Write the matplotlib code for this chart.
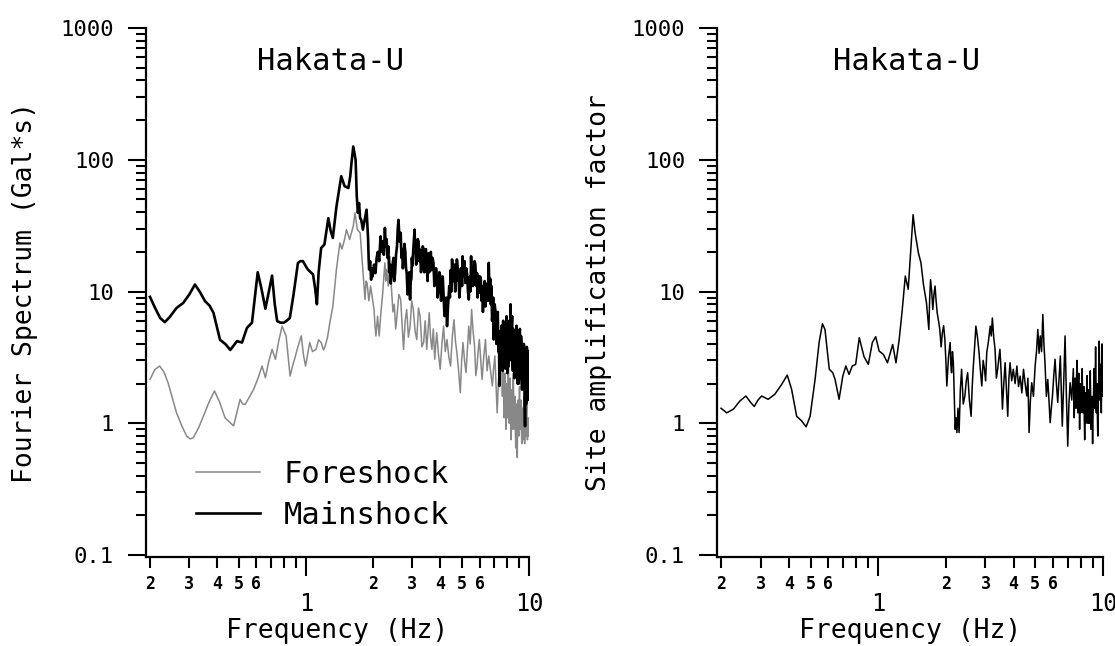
import numpy as np
import matplotlib
matplotlib.use('Agg')
import matplotlib.pyplot as plt
from matplotlib.ticker import LogLocator, NullFormatter

plt.rcParams['font.family'] = ['DejaVu Sans Mono']

# axis ticks
y_major = [0.1, 1, 10, 100, 1000]
y_major_labels = ['0.1', '1', '10', '100', '1000']
x_major = [1, 10]
x_major_labels = ['1', '10']
x_minor = [0.2, 0.3, 0.4, 0.5, 0.6, 0.7, 0.8, 0.9, 2, 3, 4, 5, 6, 7, 8, 9]
x_minor_labels = ['2', '3', '4', '5', '6', '', '', '', '2', '3', '4', '5', '6', '', '', '']

# Mainshock Fourier spectrum (Gal*s)
main_freq = [0.200, 0.210, 0.222, 0.233, 0.245, 0.263, 0.282, 0.300, 0.318, 0.335,
             0.353, 0.370, 0.385, 0.400, 0.412, 0.435, 0.458, 0.475, 0.491, 0.517,
             0.544, 0.573, 0.590, 0.608, 0.632, 0.658, 0.682, 0.705, 0.725, 0.743,
             0.770, 0.796, 0.820, 0.847, 0.880, 0.921, 0.945, 0.970, 1.000, 1.020,
             1.050, 1.076, 1.100, 1.120, 1.140, 1.170, 1.210, 1.260, 1.290, 1.320,
             1.370, 1.410, 1.440, 1.490, 1.550, 1.580, 1.600, 1.630, 1.650, 1.670,
             1.690, 1.710, 1.730, 1.750, 1.770, 1.800, 1.840, 1.870, 1.900, 1.910,
             1.920, 1.940, 1.960, 1.975, 1.990, 2.020, 2.050, 2.075, 2.100, 2.130,
             2.160, 2.185, 2.210, 2.235, 2.260, 2.280, 2.300, 2.320, 2.340, 2.360,
             2.380, 2.400, 2.420, 2.445, 2.470, 2.490, 2.510, 2.535, 2.560, 2.580,
             2.600, 2.630, 2.660, 2.680, 2.700, 2.720, 2.740, 2.765, 2.790, 2.810,
             2.830, 2.855, 2.880, 2.905, 2.930, 2.950, 2.970, 2.985, 3.000, 3.035,
             3.070, 3.085, 3.100, 3.120, 3.140, 3.170, 3.200, 3.225, 3.250, 3.280,
             3.310, 3.340, 3.370, 3.395, 3.420, 3.450, 3.480, 3.510, 3.540, 3.570,
             3.600, 3.630, 3.660, 3.695, 3.730, 3.765, 3.800, 3.830, 3.860, 3.895,
             3.930, 3.965, 4.000, 4.035, 4.070, 4.105, 4.140, 4.180, 4.220, 4.255,
             4.290, 4.340, 4.390, 4.420, 4.450, 4.485, 4.520, 4.550, 4.580, 4.610,
             4.640, 4.670, 4.700, 4.725, 4.750, 4.790, 4.830, 4.875, 4.920, 4.950,
             4.980, 5.010, 5.040, 5.075, 5.110, 5.145, 5.180, 5.230, 5.280, 5.325,
             5.370, 5.405, 5.440, 5.470, 5.500, 5.540, 5.580, 5.615, 5.650, 5.700,
             5.750, 5.800, 5.850, 5.885, 5.920, 5.955, 5.990, 6.035, 6.080, 6.120,
             6.160, 6.215, 6.270, 6.325, 6.380, 6.435, 6.490, 6.545, 6.600, 6.650,
             6.700, 6.745, 6.790, 6.830, 6.870, 6.910, 6.950, 7.015, 7.080, 7.140,
             7.200, 7.245, 7.290, 7.330, 7.370, 7.425, 7.480, 7.530, 7.580, 7.620,
             7.660, 7.690, 7.720, 7.760, 7.800, 7.830, 7.860, 7.895, 7.930, 7.965,
             8.000, 8.035, 8.070, 8.100, 8.130, 8.165, 8.200, 8.235, 8.270, 8.300,
             8.330, 8.365, 8.400, 8.435, 8.470, 8.505, 8.540, 8.575, 8.610, 8.645,
             8.680, 8.715, 8.750, 8.785, 8.820, 8.855, 8.890, 8.925, 8.960, 8.995,
             9.030, 9.065, 9.100, 9.135, 9.170, 9.205, 9.240, 9.275, 9.310, 9.345,
             9.380, 9.415, 9.450, 9.485, 9.520, 9.560, 9.600, 9.635, 9.670, 9.705,
             9.740, 9.775, 9.810, 9.845, 9.880, 9.910, 9.940, 9.970, 10.00]
main_amp = [9.1, 7.6, 6.3, 5.85, 6.4, 7.5, 8.2, 9.5, 11.3, 9.9,
            8.45, 7.8, 6.9, 5.3, 4.3, 4.0, 3.6, 3.9, 4.2, 4.1,
            5.3, 5.8, 9.0, 14.0, 10.5, 7.4, 10.0, 13.2, 8.0, 5.96,
            5.8, 5.8, 6.0, 6.3, 9.5, 16.5, 17.0, 17.0, 15.5, 14.7,
            14.0, 13.5, 10.5, 8.0, 14.0, 21.4, 22.7, 36.0, 29.0, 25.5,
            44.0, 60.0, 75.0, 63.0, 61.0, 75.0, 94.0, 126.0, 112.0, 100.0,
            53.0, 39.5, 47.0, 36.0, 35.0, 29.5, 36.0, 41.8, 25.0, 18.0,
            14.7, 17.0, 12.3, 15.0, 13.0, 16.0, 13.8, 18.0, 20.0, 17.0,
            26.2, 20.0, 24.0, 19.0, 30.4, 22.0, 25.0, 18.0, 22.0, 14.0,
            16.0, 11.5, 13.1, 16.0, 18.0, 12.0, 13.8, 19.0, 22.0, 30.0,
            35.0, 24.0, 27.9, 18.0, 21.0, 15.0, 17.5, 23.0, 20.0, 15.0,
            13.8, 9.5, 11.0, 14.0, 8.7, 12.0, 12.5, 18.0, 15.6, 22.0,
            29.5, 20.0, 22.0, 16.0, 18.5, 25.0, 24.0, 17.0, 20.8, 14.0,
            16.0, 22.0, 20.8, 14.0, 17.0, 21.0, 15.6, 12.0, 19.5, 14.0,
            17.5, 20.0, 14.5, 18.0, 16.5, 11.0, 12.0, 15.0, 13.1, 9.0,
            10.5, 14.0, 13.1, 8.5, 11.0, 13.0, 9.2, 6.5, 7.0, 9.0,
            5.46, 8.0, 11.0, 9.0, 14.5, 10.0, 17.5, 14.0, 12.0, 16.0,
            13.1, 10.0, 16.0, 12.0, 17.5, 15.0, 13.5, 9.0, 11.6, 15.0,
            14.0, 11.0, 18.5, 13.0, 14.0, 17.0, 11.6, 15.0, 13.5, 10.0,
            8.7, 12.0, 13.0, 10.0, 18.5, 12.0, 15.0, 11.0, 13.1, 17.0,
            16.0, 11.0, 13.8, 9.0, 11.0, 13.0, 9.8, 13.0, 12.5, 8.5,
            11.0, 7.0, 9.5, 12.0, 7.7, 10.0, 11.5, 8.5, 16.5, 10.0,
            12.5, 8.0, 11.0, 6.0, 7.0, 9.0, 4.32, 8.0, 7.0, 4.0,
            5.46, 7.0, 3.5, 5.0, 1.92, 4.0, 3.0, 5.5, 4.3, 2.5,
            6.0, 3.5, 2.8, 5.5, 5.2, 2.6, 3.0, 4.5, 6.5, 3.2,
            2.4, 5.0, 4.8, 2.7, 3.2, 6.0, 5.6, 3.5, 8.0, 4.0,
            3.0, 5.5, 6.5, 3.0, 2.5, 5.2, 4.5, 2.8, 2.2, 4.0,
            5.0, 2.5, 3.3, 5.5, 4.8, 2.6, 2.0, 4.4, 3.8, 2.0,
            2.6, 4.5, 5.2, 2.5, 2.2, 4.6, 4.2, 2.3, 1.8, 3.5,
            3.6, 1.9, 2.0, 4.0, 3.4, 1.6, 0.95, 3.0, 2.8, 1.4,
            1.6, 3.8, 3.6, 1.8, 1.5, 3.5, 3.4, 1.7, 2.0]

# Foreshock Fourier spectrum (Gal*s)
fore_freq = [0.200, 0.210, 0.221, 0.231, 0.241, 0.252, 0.263, 0.278, 0.292, 0.303,
             0.313, 0.330, 0.347, 0.368, 0.389, 0.410, 0.434, 0.455, 0.474, 0.490,
             0.507, 0.520, 0.534, 0.560, 0.583, 0.610, 0.636, 0.658, 0.680, 0.705,
             0.730, 0.755, 0.782, 0.815, 0.849, 0.870, 0.889, 0.920, 0.953, 0.975,
             0.996, 1.020, 1.040, 1.070, 1.110, 1.140, 1.170, 1.200, 1.220, 1.250,
             1.280, 1.320, 1.370, 1.420, 1.450, 1.490, 1.520, 1.570, 1.600, 1.630,
             1.660, 1.700, 1.750, 1.790, 1.840, 1.860, 1.880, 1.915, 1.950, 1.985,
             2.020, 2.040, 2.060, 2.095, 2.130, 2.170, 2.210, 2.235, 2.260, 2.280,
             2.300, 2.340, 2.380, 2.400, 2.420, 2.455, 2.490, 2.525, 2.560, 2.610,
             2.660, 2.700, 2.740, 2.785, 2.830, 2.880, 2.930, 2.980, 3.030, 3.085,
             3.140, 3.195, 3.250, 3.310, 3.370, 3.425, 3.480, 3.525, 3.570, 3.620,
             3.670, 3.725, 3.780, 3.820, 3.860, 3.930, 4.000, 4.070, 4.140, 4.215,
             4.290, 4.370, 4.450, 4.530, 4.610, 4.680, 4.750, 4.835, 4.920, 4.990,
             5.060, 5.140, 5.220, 5.295, 5.370, 5.450, 5.530, 5.615, 5.700, 5.775,
             5.850, 5.920, 5.990, 6.075, 6.160, 6.270, 6.380, 6.490, 6.600, 6.725,
             6.850, 6.940, 7.030, 7.115, 7.200, 7.285, 7.370, 7.450, 7.530, 7.565,
             7.600, 7.635, 7.670, 7.705, 7.740, 7.775, 7.810, 7.845, 7.880, 7.915,
             7.950, 7.985, 8.020, 8.055, 8.090, 8.125, 8.160, 8.195, 8.230, 8.265,
             8.300, 8.335, 8.370, 8.405, 8.440, 8.475, 8.510, 8.545, 8.580, 8.615,
             8.650, 8.685, 8.720, 8.755, 8.790, 8.825, 8.860, 8.895, 8.930, 8.965,
             9.000, 9.035, 9.070, 9.105, 9.140, 9.175, 9.210, 9.245, 9.280, 9.315,
             9.350, 9.385, 9.420, 9.455, 9.490, 9.525, 9.560, 9.595, 9.630, 9.665,
             9.700, 9.735, 9.770, 9.805, 9.840, 9.875, 9.910, 9.940, 9.970, 10.00]
fore_amp = [2.15, 2.55, 2.72, 2.45, 2.03, 1.55, 1.2, 0.95, 0.80, 0.76,
            0.78, 0.92, 1.13, 1.45, 1.76, 1.45, 1.10, 1.02, 0.955, 1.2,
            1.52, 1.40, 1.39, 1.6, 1.81, 2.2, 2.72, 2.22, 2.9, 3.64,
            3.06, 4.2, 5.46, 4.6, 2.28, 2.7, 3.06, 3.8, 4.6, 3.3,
            2.72, 3.4, 4.1, 3.5, 3.64, 4.3, 4.1, 3.6, 3.85, 4.5,
            5.8, 7.7, 14.7, 23.4, 21.0, 24.8, 29.5, 24.8, 28.0, 31.3,
            39.5, 29.5, 27.9, 16.5, 8.7, 12.0, 11.6, 8.5, 11.0, 9.0,
            7.3, 5.5, 4.6, 6.5, 4.6, 7.0, 9.8, 13.0, 16.5, 12.0,
            14.7, 11.0, 18.5, 13.0, 10.4, 7.0, 8.0, 5.2, 6.5, 9.5,
            8.7, 5.5, 3.64, 6.0, 7.3, 4.5, 5.46, 8.5, 7.3, 5.0,
            4.32, 7.5, 6.5, 3.8, 4.1, 6.0, 3.64, 5.0, 6.9, 4.5,
            3.64, 5.2, 3.06, 4.0, 4.87, 3.3, 2.57, 4.0, 5.46, 3.5,
            4.32, 3.2, 2.72, 4.5, 6.1, 4.2, 3.44, 2.5, 1.71, 3.0,
            4.1, 3.0, 2.42, 3.6, 5.46, 4.0, 7.3, 5.0, 3.86, 2.3,
            2.72, 3.6, 4.32, 3.0, 2.15, 3.2, 4.32, 2.5, 3.24, 2.5,
            1.92, 2.6, 3.24, 2.0, 1.2, 2.0, 2.72, 3.5, 4.32, 2.2,
            1.6, 2.4, 2.9, 1.5, 1.1, 2.0, 2.4, 1.3, 0.9, 1.7,
            2.0, 1.1, 1.3, 2.2, 2.7, 1.4, 1.0, 1.8, 2.2, 1.1,
            0.75, 1.5, 1.8, 0.9, 1.1, 2.0, 2.4, 1.2, 0.9, 1.4,
            1.6, 0.9, 0.65, 1.2, 1.4, 0.8, 0.55, 1.1, 1.5, 0.9,
            0.8, 1.4, 1.9, 1.0, 0.9, 1.3, 1.5, 0.9, 0.7, 1.1,
            1.3, 0.75, 0.85, 1.3, 1.6, 0.9, 0.7, 1.0, 1.2, 0.8,
            0.9, 1.2, 1.4, 0.9, 0.75, 1.0, 1.1, 0.8, 0.9, 1.0]

# Site amplification factor
site_freq = [0.200, 0.212, 0.227, 0.243, 0.258, 0.270, 0.281, 0.292, 0.303, 0.324,
             0.347, 0.372, 0.394, 0.412, 0.434, 0.457, 0.478, 0.498, 0.524, 0.546,
             0.565, 0.580, 0.606, 0.628, 0.643, 0.670, 0.696, 0.718, 0.742, 0.767,
             0.794, 0.824, 0.865, 0.904, 0.942, 0.975, 1.010, 1.055, 1.100, 1.160,
             1.200, 1.240, 1.280, 1.320, 1.360, 1.400, 1.430, 1.460, 1.510, 1.550,
             1.590, 1.640, 1.680, 1.695, 1.710, 1.730, 1.750, 1.770, 1.790, 1.810,
             1.830, 1.855, 1.880, 1.905, 1.930, 1.955, 1.980, 2.000, 2.020, 2.055,
             2.090, 2.105, 2.120, 2.140, 2.160, 2.180, 2.200, 2.220, 2.240, 2.265,
             2.290, 2.320, 2.350, 2.390, 2.430, 2.465, 2.500, 2.545, 2.590, 2.620,
             2.650, 2.685, 2.720, 2.765, 2.810, 2.850, 2.890, 2.930, 2.970, 3.005,
             3.040, 3.095, 3.150, 3.185, 3.220, 3.265, 3.310, 3.355, 3.400, 3.440,
             3.480, 3.525, 3.570, 3.620, 3.670, 3.720, 3.770, 3.815, 3.860, 3.925,
             3.990, 4.065, 4.140, 4.210, 4.280, 4.355, 4.430, 4.505, 4.580, 4.635,
             4.690, 4.755, 4.820, 4.905, 4.990, 5.060, 5.130, 5.195, 5.260, 5.330,
             5.400, 5.460, 5.520, 5.600, 5.680, 5.750, 5.820, 5.890, 5.960, 6.040,
             6.120, 6.205, 6.290, 6.375, 6.460, 6.525, 6.590, 6.685, 6.780, 6.875,
             6.970, 7.055, 7.140, 7.260, 7.380, 7.415, 7.450, 7.485, 7.520, 7.555,
             7.590, 7.625, 7.660, 7.695, 7.730, 7.765, 7.800, 7.835, 7.870, 7.905,
             7.940, 7.975, 8.010, 8.045, 8.080, 8.115, 8.150, 8.185, 8.220, 8.255,
             8.290, 8.325, 8.360, 8.395, 8.430, 8.465, 8.500, 8.535, 8.570, 8.605,
             8.640, 8.675, 8.710, 8.745, 8.780, 8.815, 8.850, 8.885, 8.920, 8.955,
             8.990, 9.025, 9.060, 9.095, 9.130, 9.165, 9.200, 9.235, 9.270, 9.305,
             9.340, 9.375, 9.410, 9.445, 9.480, 9.515, 9.550, 9.585, 9.620, 9.655,
             9.690, 9.725, 9.760, 9.795, 9.830, 9.865, 9.900, 9.925, 9.950, 9.975, 10.00]
site_amp = [1.30, 1.20, 1.28, 1.48, 1.61, 1.45, 1.34, 1.50, 1.61, 1.52,
            1.66, 1.97, 2.32, 1.81, 1.13, 1.04, 0.94, 1.13, 2.15, 4.1,
            5.69, 5.15, 2.57, 2.42, 2.15, 1.52, 2.28, 2.72, 2.35, 2.72,
            2.8, 4.46, 3.2, 2.8, 4.1, 4.54, 3.53, 3.33, 2.88, 3.96,
            2.88, 4.32, 7.3, 13.1, 10.4, 22.0, 38.3, 27.9, 19.6, 16.5,
            11.3, 8.2, 5.15, 9.0, 12.3, 10.0, 7.3, 9.5, 11.0, 8.5,
            6.9, 6.0, 5.15, 3.8, 4.87, 5.5, 4.32, 3.0, 1.92, 3.2,
            4.1, 2.8, 2.42, 3.5, 2.88, 1.6, 0.90, 1.1, 0.85, 1.3,
            0.85, 1.8, 2.57, 1.4, 1.61, 2.1, 2.42, 1.5, 1.13, 1.9,
            2.72, 3.8, 5.46, 4.5, 3.44, 2.5, 1.92, 3.0, 2.57, 2.1,
            3.44, 4.2, 5.46, 4.6, 6.3, 4.5, 3.64, 2.2, 2.57, 3.1,
            3.64, 2.4, 1.28, 2.0, 2.88, 1.8, 1.13, 2.2, 2.88, 2.1,
            2.57, 2.0, 2.72, 1.9, 2.28, 1.7, 2.57, 2.0, 1.61, 2.2,
            0.85, 1.5, 2.03, 1.6, 2.72, 3.5, 5.15, 3.4, 4.6, 3.5,
            6.7, 4.0, 2.88, 1.6, 2.15, 1.5, 1.01, 1.3, 1.61, 2.3,
            3.06, 2.0, 1.44, 2.2, 3.24, 1.8, 0.95, 2.0, 4.6, 1.6,
            0.67, 1.4, 2.03, 1.5, 2.6, 1.6, 1.1, 1.8, 2.2, 1.5,
            1.3, 2.2, 3.0, 1.6, 1.2, 1.9, 2.4, 1.4, 0.9, 1.5,
            2.0, 1.2, 1.4, 2.1, 2.6, 1.5, 1.2, 1.6, 1.9, 1.1,
            0.75, 1.3, 1.7, 1.0, 1.3, 1.9, 2.3, 1.4, 1.0, 1.5,
            1.8, 1.0, 1.2, 1.9, 2.5, 1.4, 0.9, 1.3, 1.6, 1.0,
            0.7, 1.1, 1.5, 2.0, 2.6, 1.6, 1.3, 2.4, 3.8, 2.0,
            1.2, 1.6, 2.0, 1.1, 0.8, 1.3, 1.7, 2.8, 4.2, 2.4,
            1.5, 2.0, 2.8, 1.6, 1.2, 2.4, 4.0, 2.2, 1.6, 3.6, 2.3]


def style_axes(ax, ylabel):
    ax.set_xscale('log')
    ax.set_yscale('log')
    ax.set_xlim(0.1919, 10)
    ax.set_ylim(0.0966, 1000)
    for s in ['top', 'right']:
        ax.spines[s].set_visible(False)
    for s in ['left', 'bottom']:
        ax.spines[s].set_linewidth(1.6)
    ax.set_yticks(y_major, y_major_labels)
    ax.yaxis.set_minor_locator(LogLocator(base=10, subs=np.arange(2, 10)))
    ax.yaxis.set_minor_formatter(NullFormatter())
    ax.set_xticks(x_major, x_major_labels)
    ax.set_xticks(x_minor, x_minor_labels, minor=True)
    ax.tick_params(axis='y', which='major', direction='out', length=13, width=1.5, pad=10, labelsize=16)
    ax.tick_params(axis='y', which='minor', direction='out', length=7, width=1.5)
    ax.tick_params(axis='x', which='major', direction='out', length=14, width=1.5, pad=11, labelsize=17)
    ax.tick_params(axis='x', which='minor', direction='out', length=8, width=1.5, pad=5, labelsize=12)
    for lab in ax.get_xticklabels(minor=True):
        lab.set_fontweight('bold')
    ax.set_xlabel('Frequency (Hz)', fontsize=19)
    ax.xaxis.set_label_coords(0.5, -0.115)
    ax.set_ylabel(ylabel, fontsize=19)


fig = plt.figure(figsize=(11.15, 6.46), dpi=100)
ax1 = fig.add_axes([146 / 1115, 89 / 646, 383 / 1115, 529 / 646])
ax2 = fig.add_axes([717 / 1115, 89 / 646, 386 / 1115, 529 / 646])

ax1.plot(fore_freq, fore_amp, color='#888888', lw=1.1, label='Foreshock')
ax1.plot(main_freq, main_amp, color='black', lw=1.9, label='Mainshock')
style_axes(ax1, 'Fourier Spectrum (Gal*s)')
ax1.yaxis.set_label_coords(-0.282, 0.5)
ax1.text(0.483, 0.936, 'Hakata-U', transform=ax1.transAxes, ha='center', va='center', fontsize=22)
ax1.legend(frameon=False, loc='lower left', bbox_to_anchor=(0.131, 0.051), borderaxespad=0,
           borderpad=0, handlelength=2.1, handletextpad=0.75, labelspacing=0.4, fontsize=22)

ax2.plot(site_freq, site_amp, color='black', lw=1.1)
style_axes(ax2, 'Site amplification factor')
ax2.yaxis.set_label_coords(-0.272, 0.5)
ax2.text(0.492, 0.936, 'Hakata-U', transform=ax2.transAxes, ha='center', va='center', fontsize=22)

fig.savefig('out.png', dpi=100)
